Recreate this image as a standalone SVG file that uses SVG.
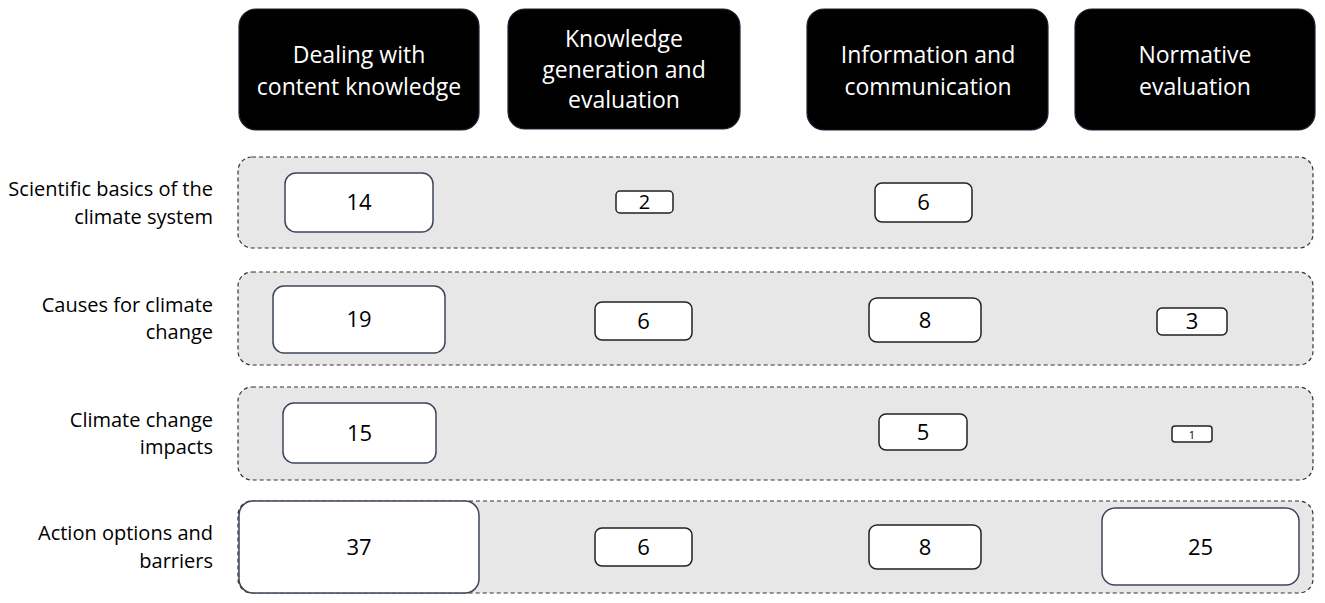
<svg xmlns="http://www.w3.org/2000/svg" width="1325" height="603" viewBox="0 0 1325 603">
<style>
.hdr rect{fill:#000;stroke:#1a2233;stroke-width:1.2}
.hdr text{fill:#fff;font-family:"Open Sans","Liberation Sans",Arial,sans-serif;font-size:23px;text-anchor:middle}
.band{fill:#e7e7e7;stroke:#333;stroke-width:1.2;stroke-dasharray:4 3}
.lbl{fill:#000;font-family:"Open Sans","Liberation Sans",Arial,sans-serif;font-size:20px;text-anchor:end}
.val rect{fill:#fff;stroke:#3c4658;stroke-width:1.5}
.val text{fill:#000;font-family:"Open Sans","Liberation Sans",Arial,sans-serif;font-size:22px;text-anchor:middle}
</style>
<rect width="1325" height="603" fill="#fff"/>
<g id="headers">
<g id="h1" class="hdr"><rect x="239" y="9" width="240" height="121" rx="17"/><text x="359" y="63">Dealing with</text><text x="359" y="95">content knowledge</text></g>
<g id="h2" class="hdr"><rect x="508" y="9" width="232" height="120" rx="17"/><text x="624" y="47">Knowledge</text><text x="624" y="78">generation and</text><text x="624" y="108">evaluation</text></g>
<g id="h3" class="hdr"><rect x="807" y="9" width="241" height="121" rx="17"/><text x="928" y="63">Information and</text><text x="928" y="95">communication</text></g>
<g id="h4" class="hdr"><rect x="1075" y="9" width="240" height="121" rx="17"/><text x="1195" y="63">Normative</text><text x="1195" y="95">evaluation</text></g>
</g>
<g id="rows">
<g id="row1"><rect class="band" x="238" y="157" width="1075" height="91" rx="14"/>
<text class="lbl" x="213" y="196">Scientific basics of the</text><text class="lbl" x="213" y="224">climate system</text></g>
<g id="row2"><rect class="band" x="238" y="272" width="1075" height="93" rx="14"/>
<text class="lbl" x="213" y="312">Causes for climate</text><text class="lbl" x="213" y="339">change</text></g>
<g id="row3"><rect class="band" x="238" y="387" width="1075" height="93" rx="14"/>
<text class="lbl" x="213" y="427">Climate change</text><text class="lbl" x="213" y="454">impacts</text></g>
<g id="row4"><rect class="band" x="238" y="501" width="1075" height="92" rx="14"/>
<text class="lbl" x="213" y="540">Action options and</text><text class="lbl" x="213" y="568">barriers</text></g>
</g>
<g id="values">
<g id="v1a" class="val"><rect x="285" y="173" width="148" height="59" rx="11"/><text x="359" y="210">14</text></g>
<g id="v1b" class="val"><rect x="616" y="191" width="57" height="22" rx="4" style="stroke:#222"/><text x="644.5" y="209" style="font-size:20px">2</text></g>
<g id="v1c" class="val"><rect x="875" y="183" width="97" height="39" rx="7" style="stroke:#222"/><text x="923.5" y="210">6</text></g>
<g id="v2a" class="val"><rect x="273" y="286" width="172" height="67" rx="11"/><text x="359" y="327">19</text></g>
<g id="v2b" class="val"><rect x="595" y="302" width="97" height="38" rx="7" style="stroke:#222"/><text x="643.5" y="329">6</text></g>
<g id="v2c" class="val"><rect x="869" y="298" width="112" height="44" rx="8" style="stroke:#222"/><text x="925" y="328">8</text></g>
<g id="v2d" class="val"><rect x="1157" y="308" width="70" height="27" rx="5" style="stroke:#222"/><text x="1192" y="329">3</text></g>
<g id="v3a" class="val"><rect x="283" y="403" width="153" height="60" rx="11"/><text x="359.5" y="441">15</text></g>
<g id="v3b" class="val"><rect x="879" y="414" width="88" height="36" rx="7" style="stroke:#222"/><text x="923" y="440">5</text></g>
<g id="v3c" class="val"><rect x="1172" y="426" width="40" height="16" rx="3" style="stroke:#222"/><text x="1192" y="439" style="font-size:11px">1</text></g>
<g id="v4a" class="val"><rect x="239" y="501" width="240" height="92" rx="14"/><text x="359" y="555">37</text></g>
<g id="v4b" class="val"><rect x="595" y="528" width="97" height="38" rx="7" style="stroke:#222"/><text x="643.5" y="555">6</text></g>
<g id="v4c" class="val"><rect x="869" y="525" width="112" height="44" rx="8" style="stroke:#222"/><text x="925" y="555">8</text></g>
<g id="v4d" class="val"><rect x="1102" y="508" width="197" height="77" rx="13"/><text x="1200.5" y="555">25</text></g>
</g>
</svg>
